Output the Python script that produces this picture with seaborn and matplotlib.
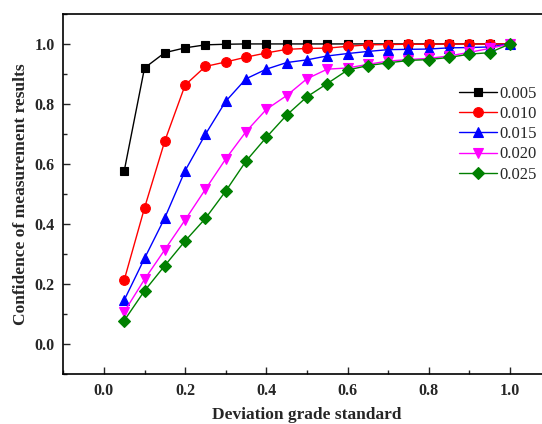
import matplotlib
matplotlib.use("Agg")
import matplotlib.pyplot as plt
import seaborn as sns
import numpy as np
import pandas as pd
from matplotlib.ticker import MultipleLocator

sns.set_theme(style="white")
plt.rcParams['font.family'] = ['Liberation Serif', 'DejaVu Serif']
plt.rcParams['mathtext.fontset'] = 'stix'

x_vals = [0.05, 0.10, 0.15, 0.20, 0.25, 0.30, 0.35, 0.40, 0.45, 0.50,
          0.55, 0.60, 0.65, 0.70, 0.75, 0.80, 0.85, 0.90, 0.95, 1.00]

s005 = [0.577, 0.920, 0.971, 0.987, 0.997, 0.999, 1.0, 1.0, 1.0, 1.0,
        1.0, 1.0, 1.0, 1.0, 1.0, 1.0, 1.0, 1.0, 1.0, 1.0]
s010 = [0.214, 0.454, 0.677, 0.863, 0.925, 0.940, 0.956, 0.970, 0.982, 0.985,
        0.986, 0.992, 0.997, 0.998, 0.999, 0.999, 1.0, 1.0, 1.0, 1.0]
s015 = [0.147, 0.286, 0.421, 0.578, 0.699, 0.809, 0.884, 0.916, 0.938, 0.947,
        0.960, 0.968, 0.975, 0.981, 0.982, 0.983, 0.987, 0.988, 0.990, 1.0]
s020 = [0.108, 0.216, 0.315, 0.414, 0.516, 0.617, 0.708, 0.782, 0.828, 0.884,
        0.916, 0.920, 0.932, 0.943, 0.948, 0.952, 0.960, 0.972, 0.985, 1.0]
s025 = [0.079, 0.178, 0.262, 0.344, 0.419, 0.510, 0.610, 0.689, 0.763, 0.824,
        0.868, 0.913, 0.928, 0.937, 0.945, 0.948, 0.955, 0.966, 0.971, 1.0]

labels = ["0.005", "0.010", "0.015", "0.020", "0.025"]
series = [s005, s010, s015, s020, s025]
colors = ["black", "red", "blue", "magenta", "green"]
markers = ["s", "o", "^", "v", "D"]
msizes = [6, 7, 7.5, 7.5, 6.5]

fig = plt.figure(figsize=(5.42, 4.24), dpi=100)
ax = fig.add_axes([0.1168, 0.1172, 0.899, 0.850])

for lab, ys, c, m, ms in zip(labels, series, colors, markers, msizes):
    df = pd.DataFrame({"x": x_vals, "y": ys})
    sns.lineplot(data=df, x="x", y="y", ax=ax, color=c, marker=m,
                 markersize=ms, markeredgecolor=c, markeredgewidth=0.8,
                 linewidth=1.0, label=lab)

ax.set_xlim(-0.1, 1.1)
ax.set_ylim(-0.1, 1.1)
ax.xaxis.set_major_locator(MultipleLocator(0.2))
ax.xaxis.set_minor_locator(MultipleLocator(0.1))
ax.yaxis.set_major_locator(MultipleLocator(0.2))
ax.yaxis.set_minor_locator(MultipleLocator(0.1))
ax.tick_params(which="major", direction="in", length=5, width=1.0,
               bottom=True, left=True, top=False, right=False,
               labelsize=11.5, pad=6)
ax.tick_params(which="minor", direction="in", length=3, width=1.0,
               bottom=True, left=True, top=False, right=False)
for lbl in ax.get_xticklabels() + ax.get_yticklabels():
    lbl.set_fontweight("bold")
for sp in ax.spines.values():
    sp.set_linewidth(1.2)
    sp.set_color("black")

ax.set_xlabel("Deviation grade standard", fontsize=12.5, fontweight="bold", labelpad=6)
ax.set_ylabel("Confidence of measurement results", fontsize=12.5, fontweight="bold", labelpad=4)

leg = ax.legend(loc="upper left", bbox_to_anchor=(459 / 542, 1 - 86 / 424),
                bbox_transform=fig.transFigure, frameon=False,
                fontsize=12, handlelength=2.3, handletextpad=0.15,
                labelspacing=0.25, borderpad=0.0, borderaxespad=0.0)

fig.savefig("out.png", dpi=100)
